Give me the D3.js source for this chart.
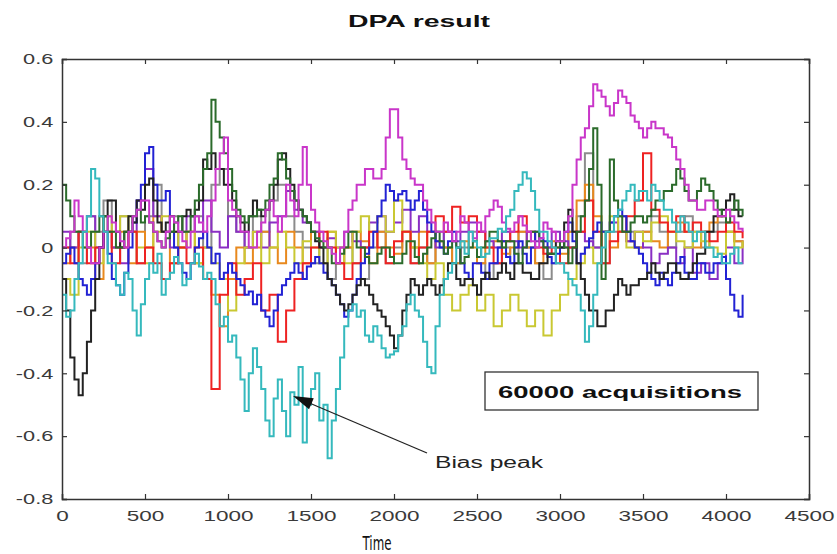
<!DOCTYPE html>
<html><head><meta charset="utf-8">
<script src="https://cdn.jsdelivr.net/npm/d3@7"></script>
<style>body{margin:0;background:#fff}svg{display:block}</style>
</head><body>
<svg id="c" width="837" height="554"></svg>
<script>
const xTicks = [0,500,1000,1500,2000,2500,3000,3500,4000,4500];
const yTicks = [-0.8,-0.6,-0.4,-0.2,0,0.2,0.4,0.6];

// coarse series: one value every 50 time units
const orange = [-0.05,0,0.05,0,-0.1,0.05,0,0.05,-0.05,0.05,0,0.1,0.05,-0.05,0,0.05,-0.05,-0.1,-0.15,-0.25,-0.1,0,-0.05,0,0.05,0,-0.05,0.05,0,-0.05,0.05,0,0.05,-0.05,0,0.05,0.02,-0.05,0.05,0,-0.02,0.05,0,0.05,-0.05,0.02,0,-0.05,0.02,0,-0.05,0,0.02,-0.02,0,0.05,0,-0.05,0,0.02,-0.02,0.05,0.15,0.2,0.1,0.05,0,0.05,0.02,0,0.05,0.02,0,0.05,0.08,0.05,0,0.05,0.08,0.1,0.05,0.02,0];
const purple = [0.05,0,0.05,0.1,0,0.05,0,-0.05,0.05,0.15,0.25,0.1,0.05,0,0.05,0.1,0.05,0.15,0.05,0,0.1,0.05,0,0.05,0,0.08,0.1,0.18,0.12,0.08,0.05,0,0.03,0,0.05,0.02,0,0.08,0.1,0.05,0.08,0.12,0.05,0.1,0.05,0,0.05,0.02,0.05,0.08,0.05,0.02,0,0.05,0.02,0,0.05,0.02,0,0.05,0.02,0,0.05,0.02,0,0.05,0.08,0.05,0.02,0.05,0,-0.05,-0.02,0,-0.05,0,-0.08,-0.05,-0.1,-0.05,0,-0.05,0];
const yellow = [-0.1,-0.15,0,0.05,-0.05,0.1,0.05,0.1,0.05,0,-0.05,0.05,0.1,0.05,0,0.05,-0.05,0,-0.05,-0.1,-0.2,-0.05,0,0.05,-0.05,0,0.05,0,-0.05,0.02,0,-0.05,0.05,0,-0.05,0.05,0.1,0.05,0.1,0.05,0.15,0.05,0,-0.05,-0.1,-0.05,-0.15,-0.2,-0.15,-0.12,-0.2,-0.15,-0.25,-0.2,-0.15,-0.2,-0.25,-0.2,-0.28,-0.2,-0.15,-0.1,-0.05,0,-0.05,0.05,0.1,0.05,0,0.05,0.02,0.08,0.1,0.05,0.02,0,0.05,0.02,0,-0.02,0.05,0,0.02];
const red = [0,-0.05,0.05,-0.05,0,0.05,-0.05,0,0.05,-0.05,0,-0.05,-0.1,-0.05,0,-0.05,0,-0.1,-0.45,-0.15,-0.05,-0.15,-0.1,-0.05,-0.2,-0.15,-0.3,-0.2,-0.1,-0.05,0,0.05,0,-0.05,-0.1,-0.05,0,0.05,0,-0.05,0.02,0.05,-0.05,0,0.05,0.1,0.05,0.13,0.08,0.1,0.05,0,-0.05,0.02,0.05,0.1,0.05,0,-0.02,0,-0.05,0,0.05,0.15,0.05,-0.05,0.02,0.05,0.1,0.15,0.3,0.12,0.08,0.05,0.1,0.05,0.08,0.05,0.02,0.05,0.08,0.05,0.03];
const gray = [0,0.05,-0.05,0.1,0.05,0.15,0,0.1,0.05,-0.05,0.1,0.2,0.05,0.1,0,0.05,0.1,0,0.2,0.25,0.1,0.05,0,0.1,0.05,0.15,0.2,0.1,0.05,0,-0.05,0,-0.1,-0.05,0,-0.05,-0.1,0,0.05,-0.05,0,0.05,-0.05,0,-0.05,0.05,0,-0.05,0,0.05,-0.05,-0.1,-0.05,0,-0.05,0.05,0,-0.05,-0.1,-0.05,0,0.05,0.1,0.3,0,-0.05,0.05,0.1,0.05,0,0.05,0.1,0.05,0,0.05,0.1,0.05,0,0.05,0.08,0.05,0.02,0];

// fine series: one value every 25 time units
const blue = [-0.05,-0.02,0,-0.05,-0.1,-0.12,-0.15,-0.1,-0.05,0,0.05,-0.02,-0.1,-0.12,-0.15,-0.08,0,0.08,0.15,0.2,
 0.3,0.32,0.2,0.15,0.15,0.18,0.05,0,-0.05,-0.08,-0.1,-0.05,0,0.03,0.05,0,-0.05,-0.02,-0.1,-0.08,
 -0.05,-0.08,-0.1,-0.12,-0.15,-0.14,-0.18,-0.15,-0.2,-0.22,-0.25,-0.2,-0.15,-0.12,-0.1,-0.08,-0.05,-0.08,-0.1,-0.06,
 -0.05,-0.03,-0.05,-0.08,-0.1,-0.12,-0.15,-0.18,-0.22,-0.2,-0.15,-0.1,-0.05,-0.02,0,0.05,0.1,0.15,0.2,0.18,
 0.15,0.17,0.18,0.15,0.12,0.15,0.18,0.12,0.08,0.05,0.02,0,-0.02,0.02,0.05,0,-0.05,-0.08,-0.1,-0.05,
 -0.05,-0.08,-0.1,-0.05,-0.05,0,0.02,-0.03,-0.05,0,0.02,-0.02,-0.05,0,0.05,0.03,0.02,-0.03,-0.05,-0.02,
 0,0.05,0.08,0.02,-0.05,-0.02,0,0.03,0.05,0.08,0.05,0.05,0.08,0.1,0.12,0.1,0.05,0.02,0,-0.02,
 -0.05,-0.08,-0.1,-0.12,-0.08,-0.1,-0.12,-0.08,-0.05,-0.03,-0.08,-0.1,-0.1,-0.05,-0.05,-0.08,-0.08,-0.05,-0.05,-0.03,
 -0.1,-0.15,-0.2,-0.22,-0.15];
const black = [-0.1,-0.2,-0.35,-0.42,-0.47,-0.4,-0.3,-0.2,-0.1,0,0.1,0.15,0.15,0.05,0,0.05,0.1,0.08,0.15,0.12,
 0.2,0.22,0.15,0.08,0.05,0.08,0.1,0.05,0.05,0.1,0.12,0.1,0.12,0.15,0.28,0.25,0.3,0.25,0.25,0.2,
 0.2,0.15,0.1,0.08,0.05,0.1,0.15,0.12,0.1,0.12,0.15,0.2,0.28,0.3,0.25,0.2,0.15,0.12,0.1,0.08,
 0.05,0.02,0,-0.05,-0.1,-0.12,-0.15,-0.18,-0.2,-0.18,-0.15,-0.12,-0.1,-0.12,-0.15,-0.18,-0.2,-0.22,-0.25,-0.28,
 -0.32,-0.28,-0.2,-0.15,-0.1,-0.12,-0.15,-0.12,-0.1,-0.12,-0.15,-0.12,-0.1,-0.05,-0.05,-0.1,-0.12,-0.1,-0.1,-0.12,
 -0.15,-0.1,-0.08,-0.1,-0.1,-0.08,-0.05,-0.08,-0.1,-0.05,-0.05,-0.08,-0.08,-0.1,-0.1,-0.05,-0.05,-0.02,-0.02,0.02,
 0,0.08,0.12,0.05,-0.05,-0.1,-0.15,-0.2,-0.2,-0.25,-0.25,-0.2,-0.2,-0.15,-0.1,-0.12,-0.15,-0.12,-0.12,-0.1,
 -0.1,-0.08,-0.05,-0.08,-0.1,-0.08,-0.05,-0.05,-0.08,-0.1,-0.1,-0.08,-0.05,-0.02,-0.02,0.05,0.05,0.1,0.1,0.12,
 0.15,0.17,0.12,0.1,0.1];
const green = [0.2,0.15,0.1,0.05,0.05,0,0,0.05,0.05,0.1,0.1,0.05,0.05,0,0,0.05,0.05,0.1,0.12,0.08,
 0.1,0.08,0.05,0.02,0,0.03,0.05,0.08,0.1,0.05,0.05,0.1,0.15,0.2,0.25,0.3,0.47,0.4,0.35,0.3,
 0.25,0.18,0.12,0.1,0.08,0.1,0.1,0.12,0.12,0.15,0.2,0.22,0.3,0.28,0.22,0.18,0.15,0.12,0.1,0.08,
 0.05,0.03,0.02,0,0,-0.05,-0.05,-0.02,0,0.05,0.05,0,0,-0.03,-0.05,-0.05,-0.02,0,0,-0.03,
 -0.05,-0.05,-0.02,0.02,0.02,-0.03,-0.05,-0.02,0,0.03,0.05,0.02,-0.02,0,0.02,0,-0.05,-0.03,0,0.02,
 -0.03,0,0.02,0.05,0.05,0.02,0,0.02,0.02,-0.02,-0.05,0,0.02,0.05,0.05,0.02,0,-0.02,-0.02,0,
 0.02,0,-0.05,0,0.05,0.1,0.15,0.25,0.38,0.2,-0.1,0.05,0.28,0.15,0.1,0.05,0.05,0.08,0.1,0.1,
 0.08,0.1,0.12,0.15,0.15,0.18,0.18,0.2,0.25,0.22,0.18,0.15,0.15,0.18,0.22,0.2,0.18,0.15,0.12,0.1,
 0.08,0.12,0.15,0.12,0.1];
const magenta = [0,0.03,0.05,0.15,0.1,0.05,0,-0.05,-0.05,0,0.05,0.1,0.08,0.05,0.02,0,0.05,0.1,0.12,0.15,
 0.15,0.08,0.05,0.02,0,0.05,0.1,0.08,0.05,0.02,0,0.05,0.1,0.08,0.05,0.1,0.15,0.25,0.3,0.35,
 0.15,0.12,0.1,0.05,0.05,0,0,0.05,0.08,0.12,0.15,0.1,0.05,0.1,0.2,0.15,0.1,0.2,0.32,0.2,
 0.12,0.08,0.05,0.02,0,-0.02,-0.05,0,0.05,0.12,0.15,0.2,0.2,0.25,0.25,0.22,0.22,0.25,0.35,0.44,
 0.44,0.35,0.28,0.25,0.22,0.2,0.2,0.15,0.12,0.08,0.05,0.05,0.08,0.05,0.02,0.05,0.1,0.08,0.05,0.03,
 0.08,0.05,0.1,0.12,0.15,0.13,0.08,0.06,0.05,0.08,0.1,0.07,0.05,0.02,0,0.03,0.08,0.06,0.05,0.02,
 0.02,0.05,0.1,0.2,0.28,0.35,0.38,0.45,0.52,0.5,0.48,0.45,0.42,0.46,0.5,0.48,0.46,0.42,0.4,0.38,
 0.35,0.38,0.4,0.38,0.38,0.36,0.35,0.32,0.28,0.25,0.2,0.15,0.15,0.12,0.12,0.15,0.15,0.12,0.1,0.1,
 0.12,0.1,0.08,0.06,0.05];
const cyan = [-0.15,-0.22,-0.2,-0.1,-0.05,0.05,0.1,0.25,0.22,0.1,0.05,-0.05,-0.05,-0.12,-0.15,-0.08,-0.1,-0.2,-0.28,-0.18,
 -0.1,-0.05,-0.08,-0.02,-0.15,-0.1,-0.08,-0.03,-0.05,-0.12,-0.1,-0.05,-0.02,-0.06,-0.1,-0.08,-0.1,-0.18,-0.25,-0.22,
 -0.3,-0.28,-0.35,-0.42,-0.52,-0.4,-0.32,-0.38,-0.45,-0.55,-0.6,-0.48,-0.42,-0.52,-0.6,-0.46,-0.5,-0.38,-0.62,-0.5,
 -0.45,-0.4,-0.55,-0.5,-0.67,-0.55,-0.45,-0.35,-0.25,-0.2,-0.18,-0.22,-0.2,-0.28,-0.3,-0.25,-0.28,-0.32,-0.35,-0.34,
 -0.33,-0.28,-0.25,-0.18,-0.15,-0.2,-0.22,-0.3,-0.38,-0.4,-0.25,-0.15,-0.1,-0.08,-0.05,0,0.02,-0.02,0.05,0.02,
 0,-0.03,-0.02,0.03,0.03,0.06,0.05,0.1,0.12,0.18,0.2,0.24,0.22,0.18,0.12,0.05,0.05,0.02,0,-0.05,
 -0.05,-0.08,-0.1,-0.12,-0.15,-0.2,-0.3,-0.25,-0.15,-0.05,0,0.05,0.05,0.1,0.12,0.15,0.18,0.2,0.15,0.18,
 0.18,0.15,0.2,0.18,0.15,0.12,0.12,0.08,0.05,0.1,0.08,0.05,0.02,0.05,0.05,0,0,-0.03,-0.02,-0.05,
 -0.05,-0.02,0,-0.05,-0.05];

const seriesList = [
  {v: gray, step: 50, c: "#8c8c8c"},
  {v: orange, step: 50, c: "#e8891e"},
  {v: purple, step: 50, c: "#8a2fc4"},
  {v: yellow, step: 50, c: "#c9c832"},
  {v: red, step: 50, c: "#ee2222"},
  {v: blue, step: 25, c: "#2222d4"},
  {v: black, step: 25, c: "#222222"},
  {v: green, step: 25, c: "#2b6b2b"},
  {v: magenta, step: 25, c: "#c936c9"},
  {v: cyan, step: 25, c: "#35b9bd"}
];

const svg = d3.select("#c");
const L = 62, R = 809, T = 59, B = 499;
const x = d3.scaleLinear().domain([0,4500]).range([L,R]);
const y = d3.scaleLinear().domain([-0.8,0.6]).range([B,T]);

svg.append("clipPath").attr("id","cp").append("rect")
  .attr("x",L).attr("y",T).attr("width",R-L).attr("height",B-T);

const g = svg.append("g").attr("clip-path","url(#cp)");
seriesList.forEach(s=>{
  const line = d3.line().x((d,i)=>x(i*s.step)).y(d=>y(d)).curve(d3.curveStepAfter);
  g.append("path").attr("d", line(s.v)).attr("fill","none")
   .attr("stroke", s.c).attr("stroke-width",2);
});

// axes
const tickFont = "Arial, 'Liberation Sans', sans-serif";
const xa = svg.append("g").attr("transform",`translate(0,${B})`)
  .call(d3.axisBottom(x).tickValues(xTicks).tickSize(-5).tickPadding(9).tickFormat(d3.format("d")));
const xt = svg.append("g").attr("transform",`translate(0,${T})`)
  .call(d3.axisTop(x).tickValues(xTicks).tickSize(-5).tickFormat(""));
const ya = svg.append("g").attr("transform",`translate(${L},0)`)
  .call(d3.axisLeft(y).tickValues(yTicks).tickSize(-5).tickPadding(8).tickFormat(d=> d===0 ? "0" : d3.format(".1f")(d).replace("−","-")));
const yr = svg.append("g").attr("transform",`translate(${R},0)`)
  .call(d3.axisRight(y).tickValues(yTicks).tickSize(-5).tickFormat(""));
[xa,xt,ya,yr].forEach(a=>{
  a.select(".domain").attr("stroke","#333").attr("stroke-width",1.5);
  a.selectAll(".tick line").attr("stroke","#333").attr("stroke-width",1.2);
});
xa.selectAll(".tick text").attr("font-family",tickFont).attr("font-size",15)
  .attr("fill","#3a3a3a").attr("transform","scale(1.5,1)").attr("dy","0.9em");
ya.selectAll(".tick text").attr("font-family",tickFont).attr("font-size",15)
  .attr("fill","#3a3a3a").attr("x",-6).attr("transform","scale(1.45,1)");

// title
svg.append("text").attr("x",419).attr("y",27).attr("text-anchor","middle")
  .attr("font-family",tickFont).attr("font-weight","bold").attr("font-size",17)
  .attr("textLength",142).attr("lengthAdjust","spacingAndGlyphs").attr("fill","#111")
  .text("DPA result");

// x label
svg.append("text").attr("x",377).attr("y",550).attr("text-anchor","middle")
  .attr("font-family","'DejaVu Sans Condensed','Liberation Sans Narrow',sans-serif")
  .attr("font-size",19).attr("textLength",29).attr("lengthAdjust","spacingAndGlyphs")
  .attr("fill","#111").text("Time");

// annotation box
svg.append("rect").attr("x",485).attr("y",372).attr("width",273).attr("height",38)
  .attr("fill","#fff").attr("stroke","#333").attr("stroke-width",1.3);
svg.append("text").attr("x",620).attr("y",398).attr("text-anchor","middle")
  .attr("font-family",tickFont).attr("font-weight","bold").attr("font-size",17)
  .attr("textLength",244).attr("lengthAdjust","spacingAndGlyphs").attr("fill","#111")
  .text("60000 acquisitions");

// arrow
const ax1 = 427, ay1 = 453, ax2 = 293, ay2 = 396;
svg.append("line").attr("x1",ax1).attr("y1",ay1).attr("x2",ax2+14).attr("y2",ay2+6)
  .attr("stroke","#222").attr("stroke-width",1.3);
const ang = Math.atan2(ay1-ay2, ax1-ax2);
const hl = 20, hw = 6;
const bx = ax2 + hl*Math.cos(ang), by = ay2 + hl*Math.sin(ang);
svg.append("path").attr("d",
  `M${ax2},${ay2} L${bx - hw*Math.sin(ang)},${by + hw*Math.cos(ang)} L${bx + hw*Math.sin(ang)},${by - hw*Math.cos(ang)} Z`)
  .attr("fill","#111");
svg.append("text").attr("x",435).attr("y",468)
  .attr("font-family",tickFont).attr("font-size",16)
  .attr("textLength",108).attr("lengthAdjust","spacingAndGlyphs").attr("fill","#222")
  .text("Bias peak");
</script>
</body></html>
